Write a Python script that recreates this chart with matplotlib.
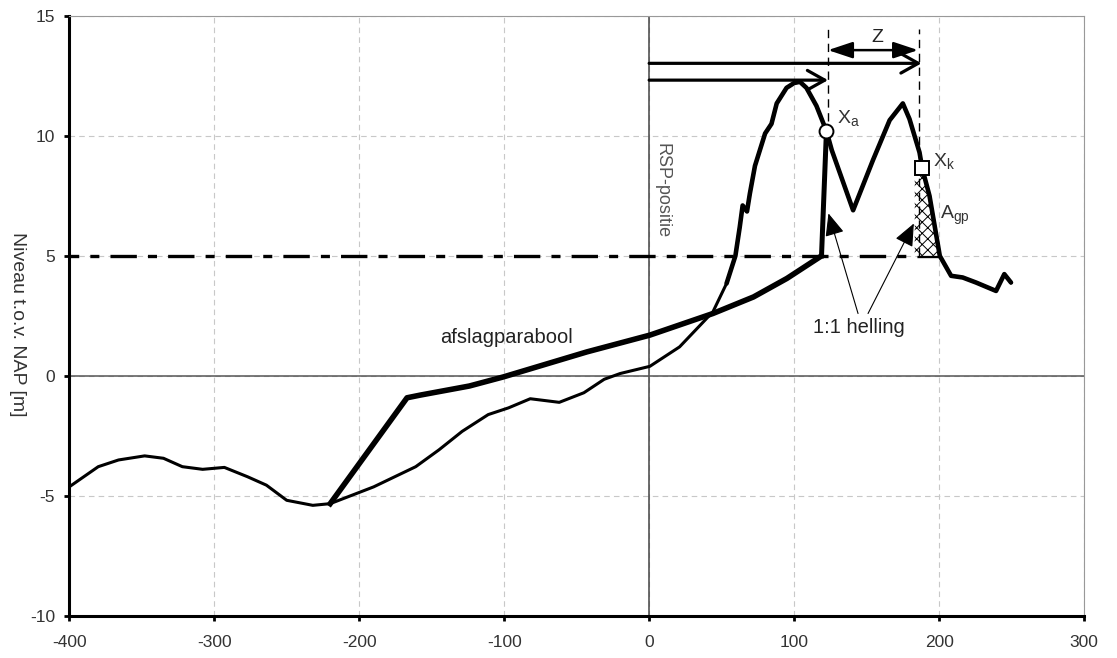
import numpy as np
import matplotlib
matplotlib.use("Agg")
import matplotlib.pyplot as plt

plt.rcParams.update({
    "font.family": ["Liberation Sans", "DejaVu Sans"],
    "lines.scale_dashes": False,
    "hatch.linewidth": 0.7,
})

# measured cross-shore profile (x in m from RSP, level in m NAP)
profile_x = [-400, -380, -366, -348, -335, -322, -308, -293, -277, -264, -250, -232,
             -220, -190, -161, -145, -129, -111, -97, -82, -62, -45, -31, -20, 0.5,
             21, 44, 53.4, 59.5, 62.5, 64.5, 67.5, 69.5, 73, 80, 84.4, 88, 94.8, 100,
             104, 108.5, 115.4, 122.3, 126, 140.7, 154.4, 165.9, 175, 179.6, 186.5,
             188.4, 193.4, 200.5, 208.3, 216.3, 225.5, 239.3, 245, 249.6]
profile_y = [-4.62, -3.78, -3.5, -3.33, -3.43, -3.78, -3.89, -3.81, -4.2, -4.55, -5.18, -5.39,
             -5.32, -4.62, -3.78, -3.08, -2.31, -1.61, -1.33, -0.95, -1.1, -0.7, -0.14, 0.1, 0.4,
             1.21, 2.67, 3.85, 5.0, 6.2, 7.1, 6.85, 7.6, 8.75, 10.1, 10.5, 11.35, 12.0, 12.2,
             12.25, 12.0, 11.25, 10.2, 9.4, 6.9, 8.99, 10.65, 11.35, 10.7, 9.31,
             8.64, 7.5, 5.0, 4.17, 4.1, 3.89, 3.54, 4.24, 3.89]

# erosion profile: 1:2 slope from toe, afslagparabool, 1:1 slope up to Xa
parab_x = [-220, -167, -158, -124, -100.5, -43, 0.5, 44, 72, 95, 118.9]
parab_y = [-5.32, -0.91, -0.8, -0.42, -0.04, 1.0, 1.7, 2.6, 3.29, 4.06, 5.0]
slope_x = [118.9, 122.3]
slope_y = [5.0, 10.2]

storm_level = 5.0
storm_x = [-400, 201]

xa = (122.3, 10.2)
xk = (188.4, 8.64)

# additional erosion area A_gp
hatch_x = [183.2, 183.2, 200.5, 193.4, 188.4]
hatch_y = [8.2, 5.0, 5.0, 7.5, 8.4]

arrow_long = (0, 187.9, 13.02)
arrow_short = (0, 123.4, 12.32)
z_arrow = (123.4, 185.5, 13.57)
guide_x = [123.4, 186.2]
guide_bottom = [10.6, 5.0]
guide_top = 14.45
helling_tips = [(123.7, 6.77), (182.6, 6.35)]
helling_tails = [(144.1, 2.6), (151.0, 2.6)]

xticks = [-400, -300, -200, -100, 0, 100, 200, 300]
yticks = [-10, -5, 0, 5, 10, 15]

fig = plt.figure(figsize=(11.17, 6.58), dpi=100)
ax = fig.add_axes([0.062, 0.0638, 0.9085, 0.9122])

ax.set_xlim(-400, 300)
ax.set_ylim(-10, 15)
ax.set_xticks(xticks)
ax.set_yticks(yticks)
ax.set_xticklabels([str(v) for v in xticks])
ax.set_yticklabels([str(v) for v in yticks])
ax.tick_params(direction="out", length=3.6, width=2, color="black",
               labelsize=12.5, labelcolor="#333333")
ax.tick_params(axis="x", pad=10)
ax.tick_params(axis="y", pad=6.5)
for s in ("left", "bottom"):
    ax.spines[s].set_linewidth(2.2)
    ax.spines[s].set_color("black")
for s in ("top", "right"):
    ax.spines[s].set_linewidth(0.8)
    ax.spines[s].set_color("#999999")

ax.grid(True, color="#c8c8c8", lw=0.8, linestyle=(0, (4, 3)))
ax.set_axisbelow(True)
ax.axvline(0, color="#444444", lw=1.1, zorder=1)
ax.axhline(0, color="#555555", lw=1.1, zorder=1)

# storm surge level
ax.plot(storm_x, [storm_level, storm_level], color="black", lw=2.4,
        linestyle=(12, (19, 8, 6.5, 8)), zorder=2, solid_capstyle="butt")

ax.fill(hatch_x, hatch_y, facecolor="white", edgecolor="black", hatch="xxx",
        lw=0, zorder=2)

px = np.array(profile_x)
py = np.array(profile_y)
ax.plot(px, py, color="black", lw=2.2, zorder=3, solid_joinstyle="round")
dune = px >= 53
ax.plot(px[dune], py[dune], color="black", lw=3.3, zorder=3,
        solid_joinstyle="round", solid_capstyle="round")

ax.plot(parab_x, parab_y, color="black", lw=4.0, zorder=3, solid_joinstyle="round")
ax.plot(slope_x, slope_y, color="black", lw=3.6, zorder=3)

# guide lines at Xa and Xk
for gx, gb in zip(guide_x, guide_bottom):
    ax.plot([gx, gx], [gb, guide_top], color="black", lw=1.0,
            linestyle=(0, (6, 4)), zorder=2)

for x0, x1, yy in (arrow_long, arrow_short):
    ax.annotate("", xy=(x1, yy), xytext=(x0, yy),
                arrowprops=dict(arrowstyle="->,head_length=0.5,head_width=0.28",
                                lw=2.3, color="black", mutation_scale=25,
                                shrinkA=0, shrinkB=0), zorder=4)
ax.annotate("", xy=(z_arrow[1], z_arrow[2]), xytext=(z_arrow[0], z_arrow[2]),
            arrowprops=dict(arrowstyle="<|-|>,head_length=0.6,head_width=0.2",
                            lw=1.8, color="black", mutation_scale=25,
                            shrinkA=0, shrinkB=0), zorder=4)
ax.text(157.5, 14.1, "Z", fontsize=14, color="#222222", ha="center", va="center")

for tip, tail in zip(helling_tips, helling_tails):
    ax.annotate("", xy=tip, xytext=tail,
                arrowprops=dict(arrowstyle="-|>,head_length=0.7,head_width=0.3",
                                lw=0.8, color="black", mutation_scale=20,
                                shrinkA=0, shrinkB=0), zorder=4)

ax.plot(*xa, marker="o", ms=10, mfc="white", mec="black", mew=1.4, zorder=5)
ax.plot(*xk, marker="s", ms=10, mfc="white", mec="black", mew=1.4, zorder=5)

ax.text(129.5, 10.7, r"X$_\mathregular{a}$", fontsize=14, color="#333333",
        ha="left", va="center")
ax.text(196, 8.9, r"X$_\mathregular{k}$", fontsize=14, color="#333333",
        ha="left", va="center")
ax.text(200.5, 6.7, r"A$_\mathregular{gp}$", fontsize=14, color="#333333",
        ha="left", va="center")
ax.text(144.6, 2.0, "1:1 helling", fontsize=14.5, color="#222222",
        ha="center", va="center")
ax.text(-98.5, 1.6, "afslagparabool", fontsize=14.5, color="#222222",
        ha="center", va="center")
ax.text(8.8, 7.7, "RSP-positie", fontsize=13, color="#555555",
        rotation=270, ha="center", va="center")

fig.text(0.016, 1 - 324 / 658, "Niveau t.o.v. NAP [m]", fontsize=14,
         color="#333333", rotation=270, ha="center", va="center")

fig.savefig("out.png", dpi=100)
